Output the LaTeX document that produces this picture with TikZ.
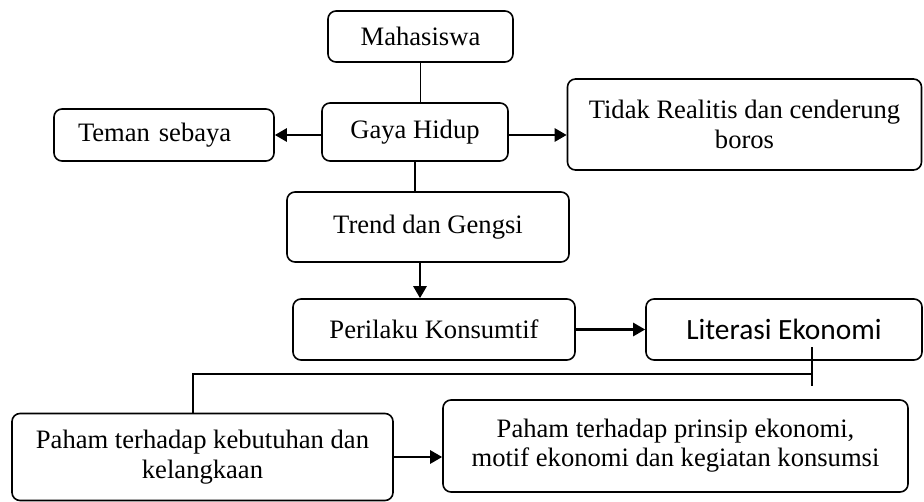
\documentclass[tikz,border=0pt]{standalone}
\usepackage{fontspec}
\setmainfont{Liberation Serif}
\newfontfamily\calibri{Carlito}
\usetikzlibrary{arrows.meta}

\tikzset{
  box/.style={draw, rounded corners=4pt, line width=0.8pt, align=center, inner sep=0pt},
  arr/.style={line width=1.3pt, -{Triangle[length=6pt,width=6.5pt]}},
  link/.style={line width=0.7pt},
}

\begin{document}
\begin{tikzpicture}[x=0.5pt,y=-0.5pt,font=\fontsize{13.3}{15}\selectfont]
\useasboundingbox (0,0) rectangle (924,502);

% Boxes
\node[box, minimum width=92.5pt, minimum height=25.5pt] (mahasiswa) at (420.5,36.5) {Mahasiswa};
\node[box, minimum width=93pt, minimum height=29pt] (gaya) at (415,132) {Gaya Hidup};
\node[box, minimum height=26pt, text width=86pt, inner xsep=12pt, align=left] (teman) at (164,135) {Teman sebaya};
\node[box, minimum width=177pt, minimum height=45.5pt] (tidak) at (744.5,124.5) {Tidak Realitis dan cenderung\\ boros};
\node[box, minimum width=141pt, minimum height=35pt] (trend) at (428,227) {Trend dan Gengsi};
\node[box, minimum width=141pt, minimum height=30.5pt] (perilaku) at (434,329.5) {Perilaku Konsumtif};
\node[box, minimum width=138pt, minimum height=30.5pt, font=\calibri\fontsize{14.7}{17}\selectfont] (literasi) at (784,329.5) {Literasi Ekonomi};
\node[box, minimum width=190.5pt, minimum height=43.5pt] (paham1) at (202.5,457) {Paham terhadap kebutuhan dan\\ kelangkaan};
\node[box, minimum width=232.5pt, minimum height=46pt, font=\fontsize{13.3}{14.5}\selectfont] (paham2) at (675.5,446) {Paham terhadap prinsip ekonomi,\\ motif ekonomi dan kegiatan konsumsi};

% Connectors
\draw[link] (mahasiswa.south) -- (mahasiswa.south |- gaya.north);
\draw[arr] (gaya.west |- teman.east) -- (teman.east);
\draw[arr] (gaya.east |- teman.east) -- (gaya.east |- teman.east -| tidak.west);
\draw[link] (gaya.south) -- (gaya.south |- trend.north);
\draw[arr] ([xshift=-4pt]trend.south) -- ([xshift=-4pt]trend.south |- perilaku.north);
\draw[arr] (perilaku.east) -- (literasi.west);

\coordinate (lit-in) at (812,347);
\coordinate (lit-end) at (812,386);
\coordinate (split) at (812,374);
\draw[link] (lit-in) -- (lit-end);
\draw[link] (split) -| ([xshift=-4.75pt]paham1.north);
\draw[arr] (paham1.east) -- (paham1.east -| paham2.west);
\end{tikzpicture}
\end{document}
